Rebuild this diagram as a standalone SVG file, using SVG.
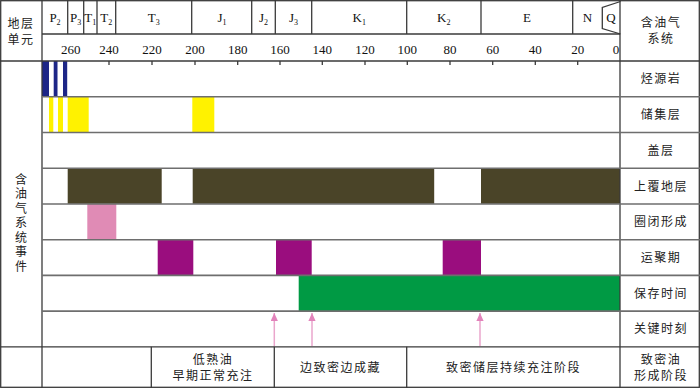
<svg xmlns="http://www.w3.org/2000/svg" width="700" height="388" viewBox="0 0 700 388">
<defs>
<style>
.grid{stroke:#3a3a3a;stroke-width:1.3;fill:none}
.row{stroke:#6e6e6e;stroke-width:1.6;fill:none}
.t{font-family:"Liberation Serif","Noto Sans CJK SC",serif;font-size:13px;fill:#111;text-anchor:middle}
.cj{font-family:"Noto Sans CJK SC",sans-serif;font-size:12px;fill:#222;text-anchor:middle;letter-spacing:1.5px}
.sub{font-size:8px}
.arr{stroke:#eaa6cc;stroke-width:1.5}
</style>
<marker id="ah" markerWidth="9" markerHeight="8" refX="8" refY="3.6" orient="auto" markerUnits="userSpaceOnUse" viewBox="0 0 9 8">
<path d="M0,0 L8,3.6 L0,7.2 Z" fill="#e283bb"/>
</marker>
</defs>
<rect x="0" y="0" width="700" height="388" fill="#fff"/>

<g id="bars">
<g id="source-rock" fill="#1d2687">
<rect x="42" y="61" width="7" height="35.5"/>
<rect x="53.7" y="61" width="3.8" height="35.5"/>
<rect x="63" y="61" width="4.2" height="35.5"/>
</g>
<g id="reservoir" fill="#fff200">
<rect x="49" y="97" width="4.3" height="35"/>
<rect x="58" y="97" width="5" height="35"/>
<rect x="67.7" y="97" width="21" height="35"/>
<rect x="192.3" y="97" width="22" height="35"/>
</g>
<g id="overburden" fill="#4a4428">
<rect x="67.7" y="168.5" width="94" height="35.3"/>
<rect x="192.7" y="168.5" width="241.5" height="35.3"/>
<rect x="481" y="168.5" width="139" height="35.3"/>
</g>
<g id="trap" fill="#e08bb5">
<rect x="87.3" y="204" width="29" height="35.7"/>
</g>
<g id="migration" fill="#9a0d7e">
<rect x="157.7" y="240" width="35.6" height="35.3"/>
<rect x="276" y="240" width="35.7" height="35.3"/>
<rect x="442.7" y="240" width="38.3" height="35.3"/>
</g>
<g id="preservation" fill="#009a44">
<rect x="298.7" y="275.5" width="321.3" height="35.5"/>
</g>
</g>

<g id="frame">
<rect class="grid" x="0.7" y="0.7" width="698.6" height="386.6"/>
<line class="grid" x1="42" y1="0" x2="42" y2="388"/>
<line class="grid" x1="620" y1="0" x2="620" y2="388"/>
<line class="grid" x1="42" y1="34" x2="620" y2="34"/>
<line class="grid" x1="0" y1="61" x2="700" y2="61"/>
<line class="row" x1="42" y1="96.8" x2="700" y2="96.8"/>
<line class="row" x1="42" y1="132.5" x2="700" y2="132.5"/>
<line class="row" x1="42" y1="168.2" x2="700" y2="168.2"/>
<line class="row" x1="42" y1="204" x2="700" y2="204"/>
<line class="row" x1="42" y1="239.7" x2="700" y2="239.7"/>
<line class="row" x1="42" y1="275.4" x2="700" y2="275.4"/>
<line class="row" x1="42" y1="311.1" x2="700" y2="311.1"/>
<line class="grid" x1="0" y1="346.8" x2="700" y2="346.8"/>
<line class="grid" x1="151.3" y1="346.8" x2="151.3" y2="388"/>
<line class="grid" x1="274.3" y1="346.8" x2="274.3" y2="388"/>
<line class="grid" x1="406.7" y1="346.8" x2="406.7" y2="388"/>
</g>

<g id="strat-units">
<g class="grid">
<line x1="67.7" y1="0" x2="67.7" y2="34"/>
<line x1="83.7" y1="0" x2="83.7" y2="34"/>
<line x1="97" y1="0" x2="97" y2="34"/>
<line x1="115.7" y1="0" x2="115.7" y2="34"/>
<line x1="191.7" y1="0" x2="191.7" y2="34"/>
<line x1="251.7" y1="0" x2="251.7" y2="34"/>
<line x1="275.3" y1="0" x2="275.3" y2="34"/>
<line x1="311.7" y1="0" x2="311.7" y2="34"/>
<line x1="406.7" y1="0" x2="406.7" y2="34"/>
<line x1="481" y1="0" x2="481" y2="34"/>
<line x1="572.7" y1="0" x2="572.7" y2="34"/>
<path d="M620.5,1.5 L602.3,7.5 L602.3,28.5 L620.5,34"/>
</g>
<text class="t" x="55" y="22">P<tspan class="sub" dy="3">2</tspan></text>
<text class="t" x="75.7" y="22">P<tspan class="sub" dy="3">3</tspan></text>
<text class="t" x="90.3" y="22">T<tspan class="sub" dy="3">1</tspan></text>
<text class="t" x="106.3" y="22">T<tspan class="sub" dy="3">2</tspan></text>
<text class="t" x="153.7" y="22">T<tspan class="sub" dy="3">3</tspan></text>
<text class="t" x="222" y="22">J<tspan class="sub" dy="3">1</tspan></text>
<text class="t" x="263.5" y="22">J<tspan class="sub" dy="3">2</tspan></text>
<text class="t" x="293.5" y="22">J<tspan class="sub" dy="3">3</tspan></text>
<text class="t" x="359.2" y="22">K<tspan class="sub" dy="3">1</tspan></text>
<text class="t" x="443.8" y="22">K<tspan class="sub" dy="3">2</tspan></text>
<text class="t" x="527" y="22">E</text>
<text class="t" x="587.5" y="22">N</text>
<text class="t" x="611" y="22">Q</text>
</g>

<g id="time-axis">
<g class="t">
<text x="70.7" y="54">260</text>
<text x="109" y="54">240</text>
<text x="152" y="54">220</text>
<text x="195" y="54">200</text>
<text x="237.7" y="54">180</text>
<text x="280" y="54">160</text>
<text x="322.3" y="54">140</text>
<text x="365" y="54">120</text>
<text x="407.3" y="54">100</text>
<text x="450" y="54">80</text>
<text x="492.7" y="54">60</text>
<text x="535.3" y="54">40</text>
<text x="577.7" y="54">20</text>
<text x="616" y="54">0</text>
</g>
<g class="grid">
<line x1="109" y1="61" x2="109" y2="65"/>
<line x1="152" y1="61" x2="152" y2="65"/>
<line x1="195" y1="61" x2="195" y2="65"/>
<line x1="237.7" y1="61" x2="237.7" y2="65"/>
<line x1="280" y1="61" x2="280" y2="65"/>
<line x1="322.3" y1="61" x2="322.3" y2="65"/>
<line x1="365" y1="61" x2="365" y2="65"/>
<line x1="407.3" y1="61" x2="407.3" y2="65"/>
<line x1="450" y1="61" x2="450" y2="65"/>
<line x1="492.7" y1="61" x2="492.7" y2="65"/>
<line x1="535.3" y1="61" x2="535.3" y2="65"/>
<line x1="577.7" y1="61" x2="577.7" y2="65"/>
</g>
</g>

<g id="connectors">
<line class="arr" x1="274.3" y1="346" x2="274.3" y2="313" marker-end="url(#ah)"/>
<line class="arr" x1="312" y1="346" x2="312" y2="313" marker-end="url(#ah)"/>
<line class="arr" x1="480" y1="346" x2="480" y2="313" marker-end="url(#ah)"/>
</g>

<g id="left-labels">
<text class="cj" x="21" y="28">地层</text>
<text class="cj" x="21" y="44">单元</text>
<text class="cj" x="21" y="173" style="writing-mode:vertical-rl;text-anchor:start;letter-spacing:2.5px">含油气系统事件</text>
</g>

<g id="right-labels" class="cj">
<text x="661" y="27">含油气</text>
<text x="661" y="43">系统</text>
<text x="661" y="83">烃源岩</text>
<text x="661" y="119">储集层</text>
<text x="661" y="155">盖层</text>
<text x="661" y="190.5">上覆地层</text>
<text x="661" y="226">圈闭形成</text>
<text x="661" y="262">运聚期</text>
<text x="661" y="297.5">保存时间</text>
<text x="661" y="333">关键时刻</text>
<text x="661" y="364">致密油</text>
<text x="661" y="380">形成阶段</text>
</g>

<g id="stage-labels" class="cj">
<text x="213" y="364">低熟油</text>
<text x="213" y="380">早期正常充注</text>
<text x="340.5" y="372">边致密边成藏</text>
<text x="513.5" y="372">致密储层持续充注阶段</text>
</g>
</svg>
